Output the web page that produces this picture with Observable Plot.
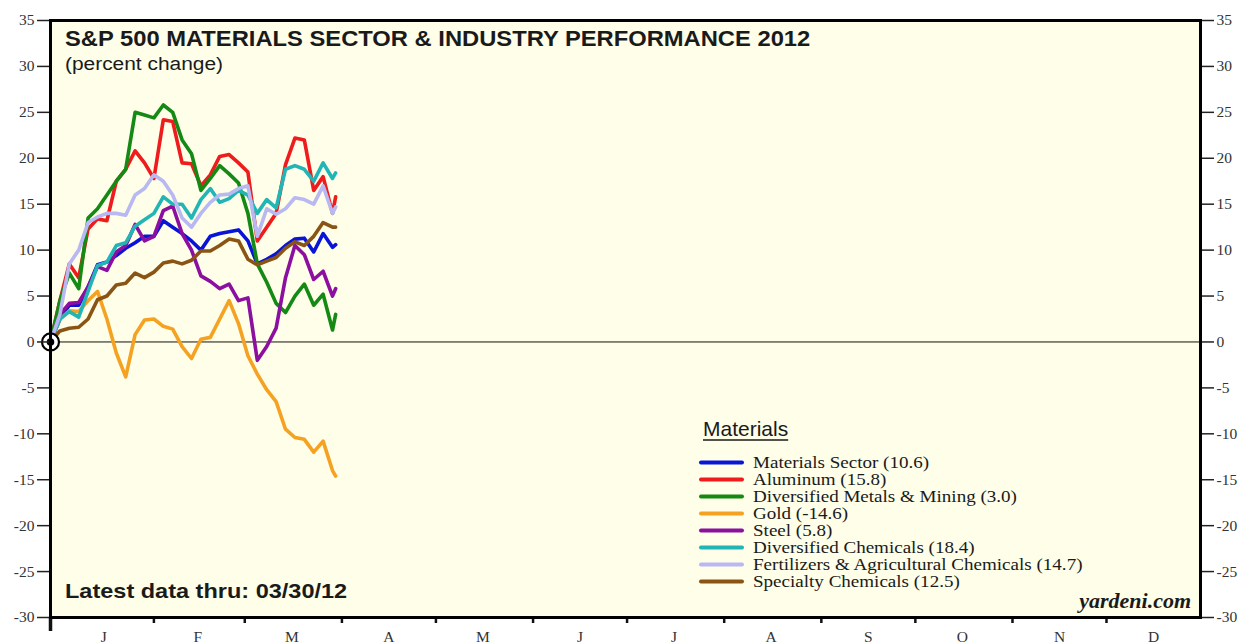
<!DOCTYPE html>
<html>
<head>
<meta charset="utf-8">
<script src="https://cdn.jsdelivr.net/npm/d3@7"></script>
<script src="https://cdn.jsdelivr.net/npm/@observablehq/plot@0.6"></script>
<style>
  html, body { margin: 0; padding: 0; background: #ffffff; }
  #chart { width: 1251px; height: 644px; }
</style>
</head>
<body>
<div id="chart"></div>
<script>
// ---------- DATA ----------
const dates = [
  "2011-12-30","2012-01-02","2012-01-05","2012-01-08","2012-01-11","2012-01-14","2012-01-17",
  "2012-01-20","2012-01-23","2012-01-26","2012-01-29","2012-02-01","2012-02-04","2012-02-07",
  "2012-02-10","2012-02-13","2012-02-16","2012-02-19","2012-02-22","2012-02-25","2012-02-28",
  "2012-03-02","2012-03-05","2012-03-08","2012-03-11","2012-03-14","2012-03-17","2012-03-20",
  "2012-03-23","2012-03-26","2012-03-29","2012-03-30"
];

const seriesNames = [
  "Materials Sector (10.6)",
  "Aluminum (15.8)",
  "Diversified Metals & Mining (3.0)",
  "Gold (-14.6)",
  "Steel (5.8)",
  "Diversified Chemicals (18.4)",
  "Fertilizers & Agricultural Chemicals (14.7)",
  "Specialty Chemicals (12.5)"
];
const seriesColors = ["#0a14d8","#ee1c1c","#148a14","#f5a223","#8c0fa0","#22b5b5","#b8b8f2","#8a5514"];

const materialsSector = [0,2.5,4,4,6,8.4,8.7,9.4,10.2,10.8,11.5,11.5,13.2,12.5,11.8,11,10,11.5,11.8,12,12.2,11,8.5,9,9.6,10.5,11.2,11.3,9.8,11.8,10.3,10.6];
const aluminum        = [0,4.5,8.5,7,12.3,13.4,13.2,17.5,18.8,20.8,19.5,17.8,24.2,24,19.5,19.4,17,18.2,20.2,20.4,19.5,18.5,11,12.5,14,19.3,22.2,22,16.5,18,14,15.8];
const divMetals       = [0,4.5,7.5,5.8,13.5,14.5,16,17.5,18.8,25,24.7,24.4,25.8,25,22,20.5,16.5,17.8,19.2,18.3,17.3,14,8.5,6.5,4.2,3.2,5,6.3,4,5.2,1.3,3.0];
const gold            = [0,2.5,3.4,3.3,4.5,5.5,2.5,-1.2,-3.8,0.8,2.4,2.5,1.7,1.4,-0.5,-1.8,0.3,0.5,2.5,4.5,2,-1.5,-3.5,-5.2,-6.5,-9.5,-10.4,-10.6,-12,-10.8,-14,-14.6];
const steel           = [0,3,4.2,4.3,6,8.2,7.8,9.8,10.5,12.8,11,11.5,14.3,14.8,11.8,10,7.2,6.6,5.8,6.3,4.5,4.8,-2,-0.5,1.5,7,10.5,9.5,6.8,7.7,5,5.8];
const divChemicals    = [0,2.5,3.3,2.7,5.5,8.3,8.7,10.5,10.8,12.6,13.3,14,15.8,15,15,13.5,15.5,16.7,15.2,15.6,16.5,16,14,15.5,14.6,18.8,19.2,18.8,17.5,19.5,17.8,18.4];
const fertilizers     = [0,3,8.5,10,13,13.6,14,14,13.8,16,16.7,18.2,17.5,16,13.5,12.5,14,15.2,16,16.1,16.7,17,11.5,14.5,13.9,14.5,15.7,15.5,15,17,14,14.7];
const specialtyChem   = [0,1.2,1.5,1.6,2.5,4.6,5,6.2,6.4,7.5,7,7.6,8.6,8.8,8.5,8.9,9.9,9.9,10.5,11.2,11,9,8.4,8.8,9.2,10.2,10.9,10.5,11.5,13,12.5,12.5];

const seriesValues = [materialsSector, aluminum, divMetals, gold, steel, divChemicals, fertilizers, specialtyChem];

const yTicks = [-30,-25,-20,-15,-10,-5,0,5,10,15,20,25,30,35];
const monthLabels = ["J","F","M","A","M","J","J","A","S","O","N","D"];
const monthStarts = ["2012-02-01","2012-03-01","2012-04-01","2012-05-01","2012-06-01","2012-07-01","2012-08-01","2012-09-01","2012-10-01","2012-11-01","2012-12-01"];
const monthMids = ["2012-01-16","2012-02-15","2012-03-16","2012-04-16","2012-05-16","2012-06-16","2012-07-16","2012-08-16","2012-09-16","2012-10-16","2012-11-16","2012-12-16"];

const titleText = "S&P 500 MATERIALS SECTOR & INDUSTRY PERFORMANCE 2012";
const subtitleText = "(percent change)";
const footText = "Latest data thru: 03/30/12";
const sourceText = "yardeni.com";
const legendTitle = "Materials";

// ---------- BUILD ----------
const parse = d3.utcParse("%Y-%m-%d");
const rows = seriesNames.flatMap((name, i) =>
  dates.map((d, j) => ({date: parse(d), value: seriesValues[i][j], series: name}))
);
const origin = [{date: parse(dates[0]), value: 0}];

const serif = "'Liberation Serif', 'Times New Roman', serif";
const sans = "'Liberation Sans', Arial, sans-serif";

const chart = Plot.plot({
  width: 1251,
  height: 644,
  marginLeft: 50,
  marginRight: 51,
  marginTop: 20,
  marginBottom: 27,
  style: {fontFamily: serif, fontSize: "15.5px", background: "#ffffff", color: "#333"},
  x: {type: "utc", domain: [parse("2011-12-30"), parse("2012-12-31")]},
  y: {domain: [-30, 35]},
  color: {domain: seriesNames, range: seriesColors},
  marks: [
    Plot.frame({fill: "#fefee9", stroke: "none"}),
    Plot.ruleY([0], {stroke: "#111", strokeWidth: 1}),
    Plot.line(rows, {x: "date", y: "value", z: "series", stroke: "series", strokeWidth: 3.6, strokeLinejoin: "round", strokeLinecap: "round"}),
    Plot.dot(origin, {x: "date", y: "value", r: 8.5, fill: "white", stroke: "black", strokeWidth: 2.2}),
    Plot.dot(origin, {x: "date", y: "value", r: 3.8, fill: "black", stroke: "none"}),
    Plot.axisY({anchor: "left", ticks: yTicks, tickSize: 13, tickPadding: 3, tickFormat: d => String(d), stroke: "#222", strokeWidth: 1.5, fill: "#333", label: null}),
    Plot.axisY({anchor: "right", ticks: yTicks, tickSize: 13, tickPadding: 3, tickFormat: d => String(d), stroke: "#222", strokeWidth: 1.5, fill: "#333", label: null}),
    Plot.axisX({ticks: monthStarts.map(parse), tickSize: 6, tickFormat: () => "", stroke: "#111", strokeWidth: 2.5, label: null}),
    Plot.axisX({ticks: [parse("2011-12-30")], tickSize: 14, tickFormat: () => "", stroke: "#111", strokeWidth: 3.5, label: null}),
    Plot.axisX({ticks: monthMids.map(parse), tickSize: 0, tickPadding: 13, tickFormat: d => monthLabels[d.getUTCMonth()], fill: "#333", fontSize: 15.5, label: null}),
    Plot.frame({stroke: "#000", strokeWidth: 3})
  ]
});

document.getElementById("chart").appendChild(chart);

// ---------- ANNOTATIONS & LEGEND ----------
const svg = d3.select(chart);

// text placed at (x, y) and stretched horizontally by sx (glyphs in the original are wide)
function addText(parent, str, x, y, sx, styles, anchor = "start") {
  const t = parent.append("text")
    .attr("transform", `translate(${x},${y}) scale(${sx},1)`)
    .attr("text-anchor", anchor)
    .attr("fill", "#1a1a1a")
    .text(str);
  Object.entries(styles).forEach(([k, v]) => t.style(k, v));
  return t;
}

const ann = svg.append("g");
addText(ann, titleText, 65, 46, 1.08, {"font-family": sans, "font-weight": "bold", "font-size": "22px"});
addText(ann, subtitleText, 65, 70, 1.1, {"font-family": sans, "font-size": "19px"});
addText(ann, footText, 65, 598, 1.12, {"font-family": sans, "font-weight": "bold", "font-size": "21px"});
addText(ann, sourceText, 1191, 608, 1.1, {"font-family": serif, "font-weight": "bold", "font-style": "italic", "font-size": "20px"}, "end");

const lg = svg.append("g");
const lt = addText(lg, legendTitle, 703, 436, 1.05, {"font-family": sans, "font-size": "20px"});
const lw = lt.node().getComputedTextLength() * 1.05;
lg.append("line").attr("x1", 703).attr("x2", 703 + lw).attr("y1", 440).attr("y2", 440).attr("stroke", "#1a1a1a").attr("stroke-width", 1.3);

seriesNames.forEach((name, i) => {
  const cy = 462.5 + i * 17;
  lg.append("line").attr("x1", 701).attr("x2", 742).attr("y1", cy).attr("y2", cy)
    .attr("stroke", seriesColors[i]).attr("stroke-width", 4).attr("stroke-linecap", "round");
  addText(lg, name, 753, cy + 5.5, 1.155, {"font-family": serif, "font-size": "16.5px"});
});
</script>
</body>
</html>
